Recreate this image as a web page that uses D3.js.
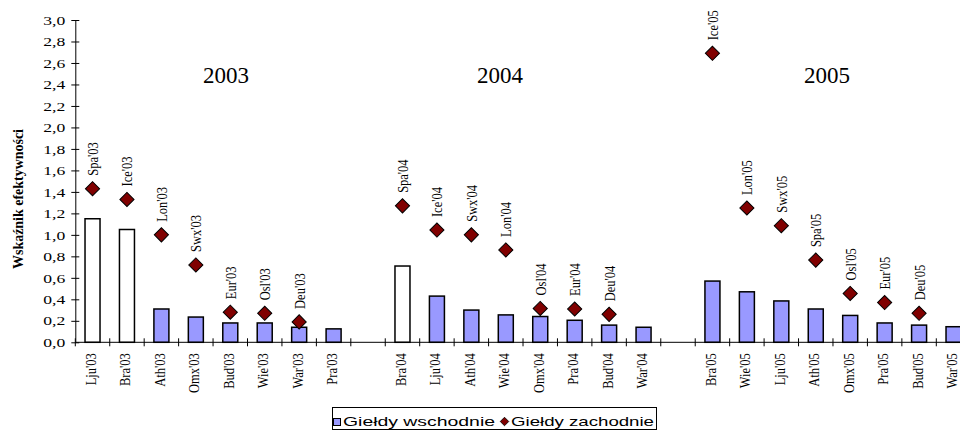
<!DOCTYPE html>
<html>
<head>
<meta charset="utf-8">
<script src="https://cdn.jsdelivr.net/npm/d3@7"></script>
<style>
    body { margin: 0; background: #fff; }
    svg { display: block; }
    text { fill: #000; }
</style>
</head>
<body>
<div id="chart"></div>
<script>
// --- data ---
const years = ["2003", "2004", "2005"];

const categories03 = ["Lju'03", "Bra'03", "Ath'03", "Omx'03", "Bud'03", "Wie'03", "War'03", "Pra'03"];
const categories04 = ["Bra'04", "Lju'04", "Ath'04", "Wie'04", "Omx'04", "Pra'04", "Bud'04", "War'04"];
const categories05 = ["Bra'05", "Wie'05", "Lju'05", "Ath'05", "Omx'05", "Pra'05", "Bud'05", "War'05"];

const east03 = [1.15, 1.05, 0.31, 0.235, 0.18, 0.18, 0.14, 0.125];
const east04 = [0.71, 0.43, 0.30, 0.255, 0.24, 0.205, 0.16, 0.14];
const east05 = [0.57, 0.47, 0.385, 0.31, 0.25, 0.18, 0.16, 0.145];

const westLabels03 = ["Spa'03", "Ice'03", "Lon'03", "Swx'03", "Eur'03", "Osl'03", "Deu'03"];
const westLabels04 = ["Spa'04", "Ice'04", "Swx'04", "Lon'04", "Osl'04", "Eur'04", "Deu'04"];
const westLabels05 = ["Ice'05", "Lon'05", "Swx'05", "Spa'05", "Osl'05", "Eur'05", "Deu'05"];

const west03 = [1.43, 1.33, 1.00, 0.72, 0.28, 0.27, 0.19];
const west04 = [1.27, 1.045, 1.00, 0.86, 0.315, 0.31, 0.26];
const west05 = [2.69, 1.25, 1.085, 0.765, 0.455, 0.37, 0.27];

// bars drawn without fill
const hollowBars = ["Lju'03", "Bra'03", "Bra'04"];

const yTicks = [0, 0.2, 0.4, 0.6, 0.8, 1.0, 1.2, 1.4, 1.6, 1.8, 2.0, 2.2, 2.4, 2.6, 2.8, 3.0];

const legendItems = ["Giełdy wschodnie", "Giełdy zachodnie"];

// --- build slots (8 per year, one empty slot between years) ---
const groups = [
    { year: years[0], cats: categories03, east: east03, west: west03, westLabels: westLabels03 },
    { year: years[1], cats: categories04, east: east04, west: west04, westLabels: westLabels04 },
    { year: years[2], cats: categories05, east: east05, west: west05, westLabels: westLabels05 }
];

const slots = [];
const bars = [];
const points = [];
groups.forEach((g, gi) => {
    if (gi > 0) slots.push("gap" + gi);
    g.cats.forEach((c, i) => {
        slots.push(c);
        bars.push({ key: c, value: g.east[i], hollow: hollowBars.includes(c) });
        if (i < g.west.length) {
            points.push({ key: c, value: g.west[i], label: g.westLabels[i] });
        }
    });
});

// --- layout ---
const W = 960, H = 432;
const serif = "'Liberation Serif', 'Times New Roman', serif";
const sans = "'Liberation Sans', Arial, sans-serif";
// the original's rotated labels look widened across their lines
const rotStretch = "rotate(-90) scale(1,1.25)";

const svg = d3.select("#chart").append("svg")
    .attr("width", W)
    .attr("height", H)
    .style("background", "#fff");

const x = d3.scaleBand()
    .domain(slots)
    .range([75.3, 75.3 + slots.length * 34.44])
    .paddingInner(0)
    .paddingOuter(0);

const y = d3.scaleLinear()
    .domain([0, 3])
    .range([342.3, 20]);

const barW = 15;

// y axis
const yAxis = svg.append("g")
    .attr("transform", `translate(${x.range()[0]},0)`)
    .call(d3.axisLeft(y)
        .tickValues(yTicks)
        .tickSizeInner(4)
        .tickSizeOuter(0)
        .tickPadding(6)
        .tickFormat(d => d3.format(".1f")(d).replace(".", ",")));
yAxis.select(".domain").attr("stroke", "#000");
yAxis.selectAll(".tick line").attr("x1", 4).attr("stroke", "#000");
yAxis.selectAll(".tick text")
    .attr("font-family", serif)
    .attr("font-size", 13)
    .attr("textLength", 22)
    .attr("lengthAdjust", "spacingAndGlyphs");

// y axis title
svg.append("text")
    .attr("transform", "translate(18,199) " + rotStretch)
    .attr("text-anchor", "middle")
    .attr("dy", "0.35em")
    .attr("font-family", serif)
    .attr("font-weight", "bold")
    .attr("font-size", 12)
    .attr("textLength", 140)
    .attr("lengthAdjust", "spacingAndGlyphs")
    .text("Wskaźnik efektywności");

// bars
svg.append("g")
    .selectAll("rect")
    .data(bars)
    .join("rect")
    .attr("x", d => x(d.key) + (x.bandwidth() - barW) / 2)
    .attr("y", d => y(d.value))
    .attr("width", barW)
    .attr("height", d => y(0) - y(d.value))
    .attr("fill", d => d.hollow ? "#ffffff" : "#9999ff")
    .attr("stroke", "#000")
    .attr("stroke-width", 1.5);

// x axis line and ticks at slot boundaries
const y0 = y(0);
const xAxis = svg.append("g");
xAxis.append("line")
    .attr("x1", x.range()[0])
    .attr("x2", x.range()[1])
    .attr("y1", y0)
    .attr("y2", y0)
    .attr("stroke", "#000");
xAxis.selectAll(".xtick")
    .data(slots.concat(["end"]))
    .join("line")
    .attr("class", "xtick")
    .attr("x1", (d, i) => x.range()[0] + i * x.step())
    .attr("x2", (d, i) => x.range()[0] + i * x.step())
    .attr("y1", y0 - 4)
    .attr("y2", y0 + 4)
    .attr("stroke", "#000");
xAxis.selectAll(".xlabel")
    .data(slots.filter(s => !s.startsWith("gap")))
    .join("text")
    .attr("class", "xlabel")
    .attr("transform", d => `translate(${x(d) + x.bandwidth() / 2},${y0 + 11}) ${rotStretch}`)
    .attr("dy", "0.22em")
    .attr("text-anchor", "end")
    .attr("font-family", serif)
    .attr("font-size", 12.5)
    .text(d => d);

// western exchanges: diamonds with labels
const diamond = d3.symbol().type(d3.symbolSquare).size(100);
const pts = svg.append("g");
pts.selectAll("path")
    .data(points)
    .join("path")
    .attr("d", diamond)
    .attr("transform", d => `translate(${x(d.key) + x.bandwidth() / 2},${y(d.value)}) rotate(45)`)
    .attr("fill", "#800000")
    .attr("stroke", "#000")
    .attr("stroke-width", 1);
pts.selectAll("text")
    .data(points)
    .join("text")
    .attr("transform", d => `translate(${x(d.key) + x.bandwidth() / 2},${y(d.value) - 13}) ${rotStretch}`)
    .attr("dy", "0.35em")
    .attr("text-anchor", "start")
    .attr("font-family", serif)
    .attr("font-size", 12.5)
    .text(d => d.label);

// year titles
const titleX = [226, 500, 827];
svg.append("g")
    .selectAll("text")
    .data(years)
    .join("text")
    .attr("x", (d, i) => titleX[i])
    .attr("y", 83)
    .attr("text-anchor", "middle")
    .attr("font-family", serif)
    .attr("font-size", 23)
    .text(d => d);

// legend
const legend = svg.append("g");
legend.append("rect")
    .attr("x", 332.5)
    .attr("y", 407.5)
    .attr("width", 324)
    .attr("height", 22)
    .attr("fill", "#fff")
    .attr("stroke", "#000");
legend.append("rect")
    .attr("x", 333.5)
    .attr("y", 418.5)
    .attr("width", 7)
    .attr("height", 7)
    .attr("fill", "#9999ff")
    .attr("stroke", "#000");
legend.append("text")
    .attr("x", 343)
    .attr("y", 426)
    .attr("font-family", sans)
    .attr("font-size", 13)
    .attr("textLength", 152)
    .attr("lengthAdjust", "spacingAndGlyphs")
    .text(legendItems[0]);
legend.append("path")
    .attr("d", d3.symbol().type(d3.symbolSquare).size(36))
    .attr("transform", "translate(504.5,421.5) rotate(45)")
    .attr("fill", "#800000")
    .attr("stroke", "#000")
    .attr("stroke-width", 0.8);
legend.append("text")
    .attr("x", 511)
    .attr("y", 426)
    .attr("font-family", sans)
    .attr("font-size", 13)
    .attr("textLength", 143)
    .attr("lengthAdjust", "spacingAndGlyphs")
    .text(legendItems[1]);
</script>
</body>
</html>
